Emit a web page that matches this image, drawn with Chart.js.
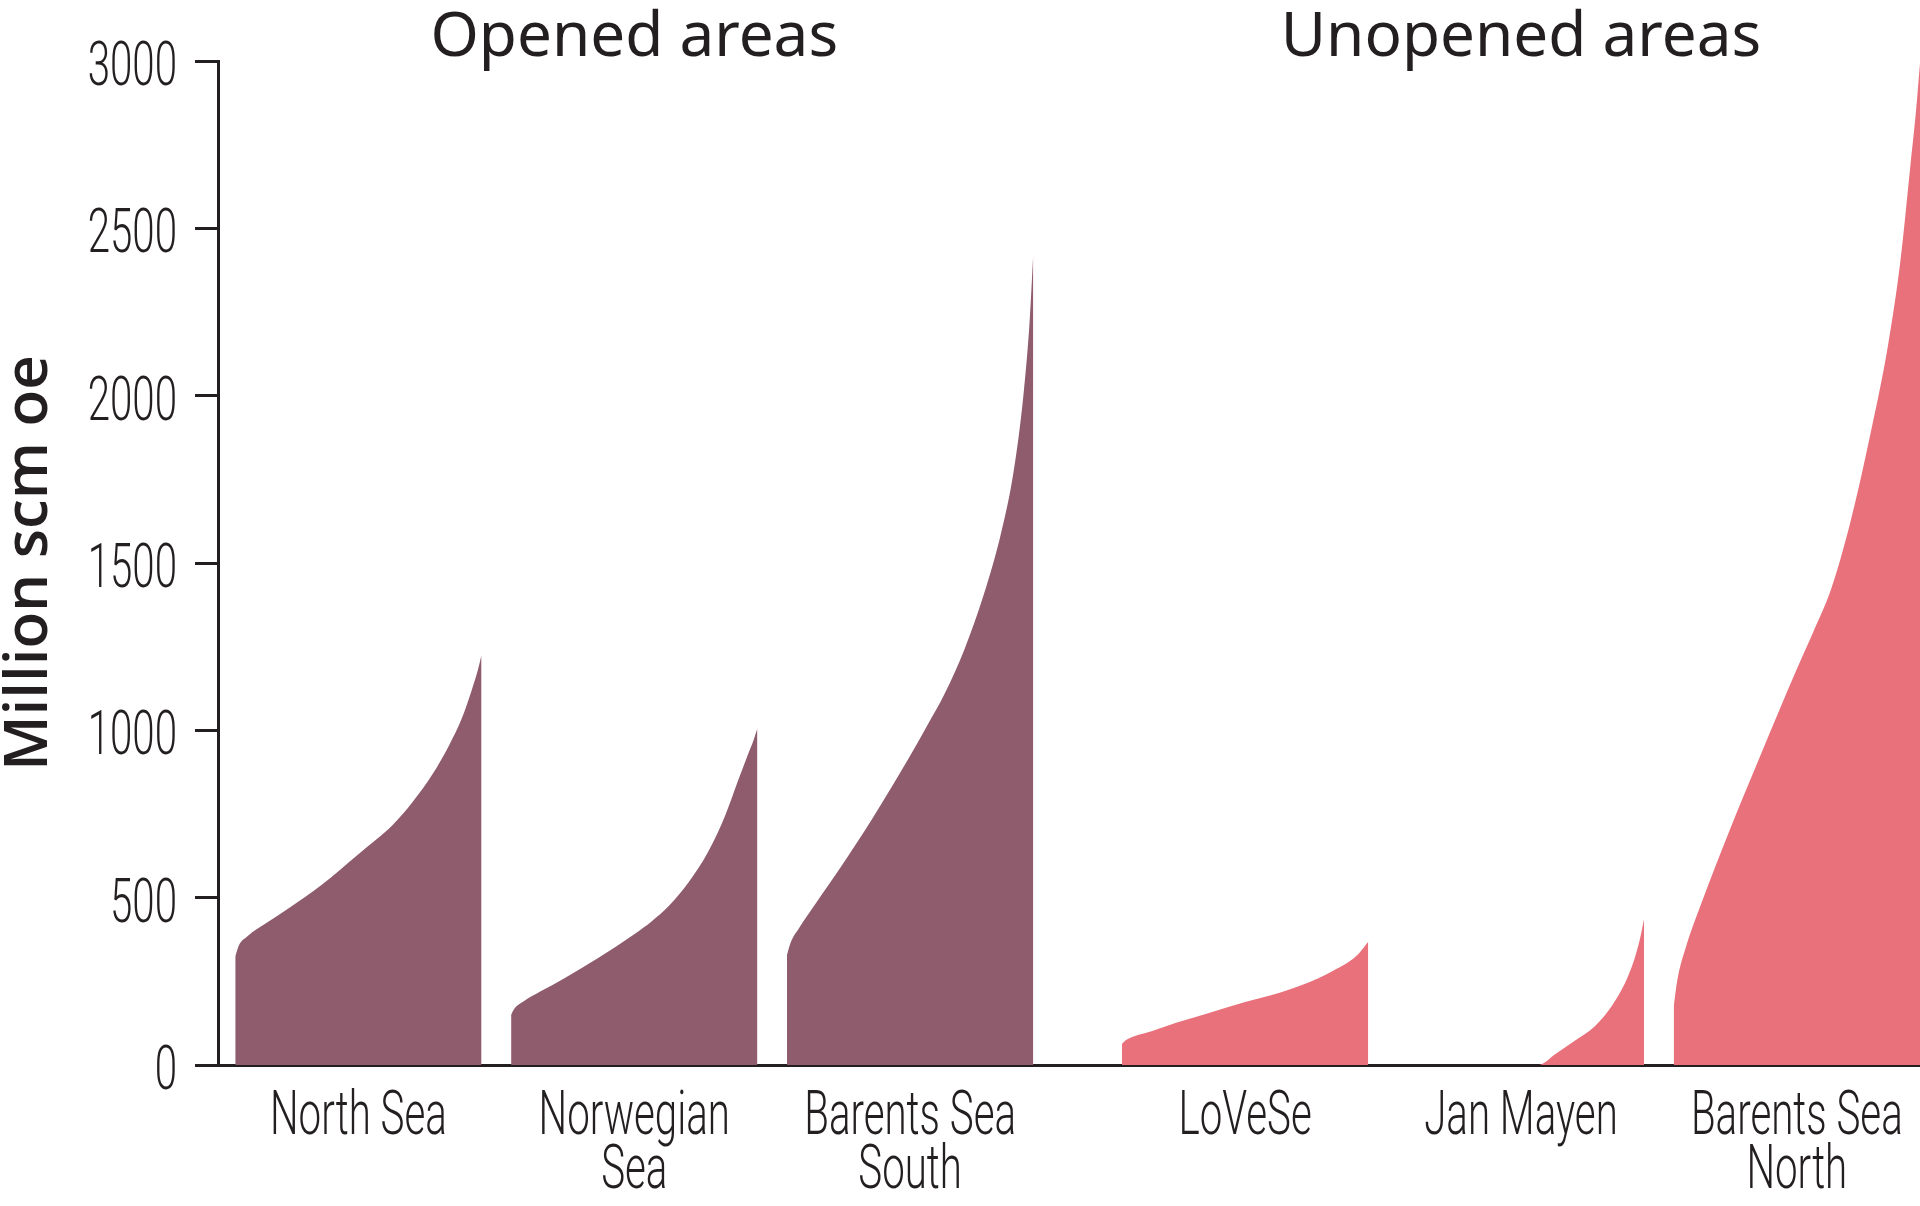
<!DOCTYPE html>
<html>
<head>
<meta charset="utf-8">
<title>Resources by area</title>
<script src="https://cdn.jsdelivr.net/npm/chart.js@4.4.1/dist/chart.umd.min.js"></script>
<style>
    html, body { margin: 0; padding: 0; background: #fff; }
    #wrap { width: 1920px; height: 1206px; position: relative; }
</style>
</head>
<body>
<div id="wrap"><canvas id="chart"></canvas></div>
<script>
'use strict';

// percentile position inside each fin (0 = left edge, 100 = right edge)
var percentiles = [0, 1.5, 5, 12, 22, 35, 50, 57, 64, 72, 80, 87, 92, 96, 98.5, 100];

// million scm oe at the percentiles above
var northSea     = [324, 358, 385, 421, 470, 538, 630, 672, 718, 786, 868, 958, 1036, 1120, 1180, 1225];
var norwegianSea = [150, 170, 190, 220, 261, 318, 391, 429, 475, 545, 637, 747, 847, 925, 972, 1006];
var barentsSouth = [329, 366, 410, 486, 593, 740, 924, 1015, 1109, 1241, 1408, 1592, 1773, 2001, 2220, 2425];
var loVeSe       = [63, 74, 86, 101, 126, 155, 188, 202, 216, 236, 260, 287, 308, 332, 354, 368];
var janMayen     = [0, 0, 0, 0, 0, 0, 0, 0, 33, 73, 116, 178, 241, 315, 383, 438];
var barentsNorth = [174, 255, 353, 498, 688, 921, 1183, 1300, 1424, 1630, 1890, 2150, 2400, 2680, 2860, 2993];

var categories = ['North Sea', ['Norwegian', 'Sea'], ['Barents Sea', 'South'], 'LoVeSe', 'Jan Mayen', ['Barents Sea', 'North']];
var seriesValues = [northSea, norwegianSea, barentsSouth, loVeSe, janMayen, barentsNorth];
var areaGroup = [0, 0, 0, 1, 1, 1];
var groupTitles = ['Opened areas', 'Unopened areas'];

var yTickStep = 500;
var yMax = 3000;
var yTitle = 'Million scm oe';

// layout: where each fin starts on the x axis (fin width = 100)
var finStart = [7, 119, 231, 367, 479, 591];
var finWidth = 100;
var xMax = 691;

var groupColors = ['#8F5C6D', '#E8717B'];
var inkColor = '#231F20';
var labelFont = '300 61px Roboto, "Open Sans", sans-serif';
var labelSquash = 0.66;
var titleFont = '"Noto Sans", "Open Sans", sans-serif';

function finCenters() {
    return finStart.map(function (s) { return s + finWidth / 2; });
}

var datasets = seriesValues.map(function (vals, i) {
    return {
        label: Array.isArray(categories[i]) ? categories[i].join(' ') : categories[i],
        data: vals.map(function (v, k) { return { x: finStart[i] + percentiles[k], y: v }; }),
        backgroundColor: groupColors[areaGroup[i]],
        borderWidth: 0,
        pointRadius: 0,
        fill: 'origin',
        cubicInterpolationMode: 'monotone'
    };
});

// condensed text: the source uses a narrow face we don't have
function drawNarrow(ctx, text, x, y, align) {
    ctx.save();
    ctx.translate(x, y);
    ctx.scale(labelSquash, 1);
    ctx.textAlign = align;
    ctx.textBaseline = 'alphabetic';
    ctx.fillText(text, 0, 0);
    ctx.restore();
}

var axisLabelPlugin = {
    id: 'axisLabels',
    afterDraw: function (chart) {
        var ctx = chart.ctx;
        var xs = chart.scales.x;
        var ys = chart.scales.y;
        ctx.save();
        ctx.fillStyle = inkColor;
        ctx.font = labelFont;
        ys.ticks.forEach(function (t, i) {
            drawNarrow(ctx, String(t.value), ys.right - 41, ys.getPixelForTick(i) + 24, 'right');
        });
        xs.ticks.forEach(function (t, i) {
            var lines = [].concat(categories[i]);
            lines.forEach(function (line, j) {
                drawNarrow(ctx, line, xs.getPixelForTick(i), xs.top + 69 + j * 54, 'center');
            });
        });
        ctx.restore();
    }
};

var groupTitlePlugin = {
    id: 'groupTitles',
    afterDraw: function (chart) {
        var ctx = chart.ctx;
        var xs = chart.scales.x;
        var centers = finCenters();
        ctx.save();
        ctx.fillStyle = inkColor;
        ctx.font = '400 62px ' + titleFont;
        ctx.textAlign = 'center';
        ctx.textBaseline = 'alphabetic';
        groupTitles.forEach(function (t, g) {
            var idx = areaGroup.map(function (a, i) { return a === g ? i : -1; }).filter(function (i) { return i >= 0; });
            var mid = (centers[idx[0]] + centers[idx[idx.length - 1]]) / 2;
            ctx.fillText(t, xs.getPixelForValue(mid), 56);
        });
        ctx.restore();
    }
};

new Chart(document.getElementById('chart'), {
    type: 'line',
    data: { datasets: datasets },
    options: {
        responsive: true,
        maintainAspectRatio: false,
        animation: false,
        devicePixelRatio: 1,
        layout: { padding: { top: 61, right: 0, bottom: 0, left: 0 } },
        plugins: {
            legend: { display: false },
            tooltip: { enabled: false },
            title: { display: false }
        },
        scales: {
            x: {
                type: 'linear',
                min: 0,
                max: xMax,
                afterBuildTicks: function (scale) {
                    scale.ticks = finCenters().map(function (c) { return { value: c }; });
                },
                afterFit: function (scale) { scale.height = 141; },
                grid: { display: false, drawTicks: false },
                border: { display: true, color: inkColor, width: 3 },
                ticks: { display: false, autoSkip: false, maxRotation: 0 }
            },
            y: {
                min: 0,
                max: yMax,
                afterFit: function (scale) { scale.width = 218; },
                grid: {
                    drawOnChartArea: false,
                    drawTicks: true,
                    tickLength: 23,
                    tickWidth: 3,
                    tickColor: inkColor
                },
                border: { display: true, color: inkColor, width: 3 },
                ticks: { display: false, stepSize: yTickStep },
                title: {
                    display: true,
                    text: yTitle,
                    color: inkColor,
                    font: { family: '"Open Sans", "Noto Sans", sans-serif', size: 60, weight: '600', lineHeight: 1.0 },
                    padding: { top: 0, bottom: 0 }
                }
            }
        }
    },
    plugins: [axisLabelPlugin, groupTitlePlugin]
});
</script>
</body>
</html>
